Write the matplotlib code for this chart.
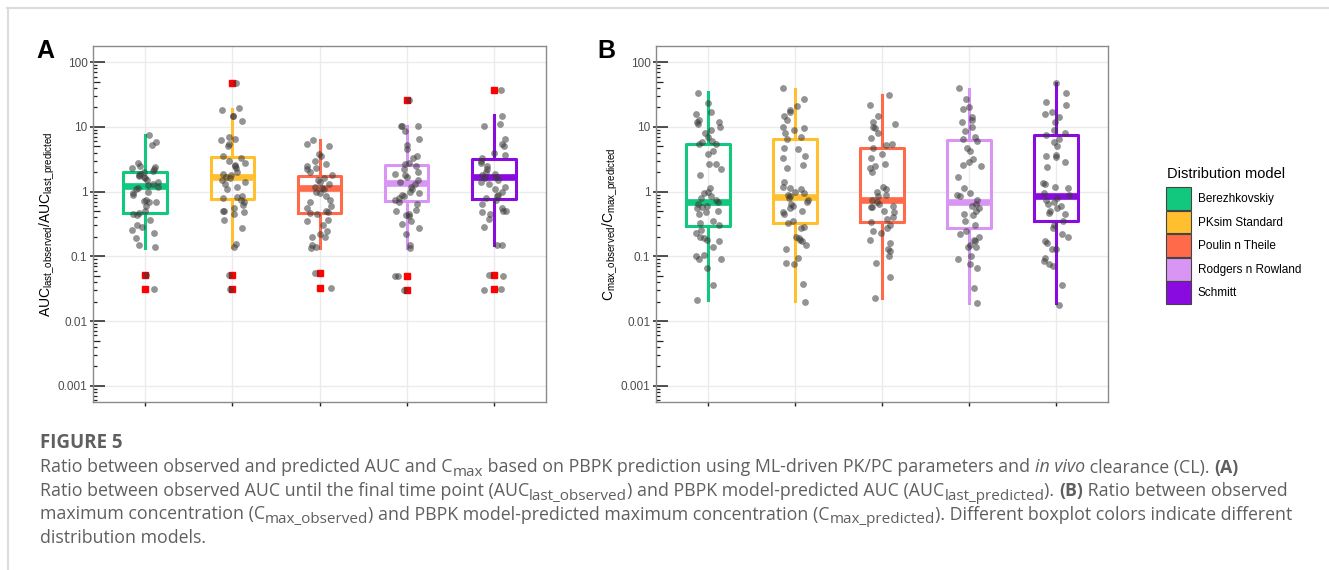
import numpy as np
import matplotlib.pyplot as plt
from matplotlib.patches import Patch
from matplotlib.lines import Line2D
from matplotlib.font_manager import FontProperties
from matplotlib.ticker import LogLocator, FixedLocator, NullFormatter

plt.rcParams['font.family'] = ['Liberation Sans', 'DejaVu Sans']
plt.rcParams['mathtext.fontset'] = 'custom'
plt.rcParams['mathtext.rm'] = 'Liberation Sans'

# ---- data ----
models = ['Berezhkovskiy', 'PKsim Standard', 'Poulin n Theile', 'Rodgers n Rowland', 'Schmitt']
colors = ['#12C87E', '#FFBF2E', '#FF6B4A', '#D895F4', '#8A0BE0']

# panel A: AUC ratio, box statistics
auc_q1 = [0.475, 0.78, 0.46, 0.72, 0.78]
auc_med = [1.24, 1.70, 1.14, 1.37, 1.66]
auc_q3 = [1.98, 3.4, 1.74, 2.57, 3.14]
auc_lo = [0.137, 0.14, 0.137, 0.137, 0.15]
auc_hi = [7.4, 19.0, 6.2, 10.3, 15.1]
auc_out = [[0.051, 0.031], [48, 0.051, 0.031], [0.055, 0.0326],
           [26.4, 0.050, 0.030], [37, 0.051, 0.031]]

# panel A: individual compounds
auc_pts = [
    [7.4, 5.9, 5.2, 2.8, 2.5, 2.4, 2.3, 2.2, 2.1, 2.0, 1.9, 1.8, 1.75, 1.7, 1.6, 1.5,
     1.4, 1.3, 1.25, 1.2, 1.15, 1.1, 1.0, 0.95, 0.9, 0.75, 0.72, 0.7, 0.68, 0.6, 0.5,
     0.47, 0.45, 0.43, 0.37, 0.3, 0.28, 0.26, 0.23, 0.19, 0.15, 0.14, 0.051, 0.031],
    [48, 19.5, 18, 15, 15, 12.5, 7, 6.5, 6.3, 5.5, 5, 3.5, 3.3, 3.0, 2.8, 2.6, 2.5,
     2.3, 2.0, 1.9, 1.8, 1.7, 1.6, 1.5, 1.4, 1.3, 1.2, 1.1, 0.85, 0.82, 0.8, 0.75, 0.7,
     0.62, 0.55, 0.5, 0.5, 0.48, 0.45, 0.36, 0.27, 0.155, 0.14, 0.051, 0.031],
    [6.2, 5.5, 5.0, 3.8, 3.5, 3.0, 2.7, 2.5, 2.3, 2.2, 2.0, 1.8, 1.6, 1.5, 1.4, 1.3,
     1.2, 1.15, 1.1, 1.0, 0.95, 0.85, 0.75, 0.7, 0.6, 0.55, 0.5, 0.48, 0.46, 0.45,
     0.36, 0.35, 0.3, 0.25, 0.22, 0.2, 0.2, 0.15, 0.14, 0.135, 0.055, 0.0326],
    [26.4, 10.5, 10.3, 10.2, 8.5, 6.5, 5.3, 4.5, 3.5, 3.3, 2.8, 2.7, 2.5, 2.2, 2.0,
     1.9, 1.8, 1.7, 1.5, 1.4, 1.3, 1.2, 1.1, 1.0, 0.95, 0.9, 0.85, 0.8, 0.75, 0.7,
     0.65, 0.52, 0.5, 0.45, 0.43, 0.42, 0.35, 0.32, 0.27, 0.22, 0.15, 0.135, 0.049,
     0.050, 0.030],
    [37, 15, 11, 10.5, 6.5, 5.5, 5, 4, 3.7, 3.3, 3.0, 2.8, 2.5, 2.2, 2.0, 1.9, 1.8,
     1.7, 1.6, 1.5, 1.4, 1.3, 1.2, 1.1, 1.0, 0.9, 0.85, 0.8, 0.75, 0.65, 0.55, 0.5,
     0.5, 0.48, 0.45, 0.38, 0.28, 0.15, 0.15, 0.051, 0.05, 0.031, 0.03],
]

# panel B: Cmax ratio, box statistics
cmax_q1 = [0.296, 0.333, 0.341, 0.279, 0.35]
cmax_med = [0.685, 0.84, 0.744, 0.70, 0.868]
cmax_q3 = [5.35, 6.4, 4.7, 6.2, 7.45]
cmax_lo = [0.021, 0.0203, 0.0229, 0.019, 0.0187]
cmax_hi = [34.6, 38.9, 30.7, 39.0, 47.5]
cmax_out = [[], [], [], [], []]

cmax_pts = [
    [34, 23, 17, 16, 13, 12, 12, 11, 10, 9, 8, 7, 6, 5.8, 5.5, 5.5, 4.2, 3.8, 2.7,
     2.7, 2.2, 1.8, 1.15, 1.0, 0.95, 0.85, 0.8, 0.75, 0.7, 0.65, 0.6, 0.58, 0.55, 0.5,
     0.48, 0.45, 0.35, 0.33, 0.3, 0.26, 0.23, 0.2, 0.19, 0.18, 0.17, 0.14, 0.105, 0.1,
     0.092, 0.09, 0.065, 0.036, 0.021],
    [40, 27, 21, 18, 17, 15, 13, 10, 9.5, 9, 8, 7, 6.5, 4.8, 4.5, 3.5, 3.3, 2.6, 2.3,
     1.4, 1.2, 1.15, 1.1, 1.0, 0.95, 0.9, 0.85, 0.8, 0.75, 0.7, 0.65, 0.6, 0.55, 0.5,
     0.48, 0.45, 0.35, 0.33, 0.28, 0.27, 0.2, 0.19, 0.18, 0.17, 0.15, 0.13, 0.095,
     0.08, 0.075, 0.038, 0.02],
    [31, 22, 15, 12, 11, 10, 9.5, 8, 6.8, 5.5, 5.2, 4.8, 3.8, 3.3, 2.7, 2.5, 2.3, 2.0,
     1.2, 1.1, 1.0, 0.9, 0.85, 0.75, 0.7, 0.65, 0.6, 0.58, 0.57, 0.5, 0.48, 0.4, 0.38,
     0.34, 0.3, 0.27, 0.25, 0.23, 0.18, 0.16, 0.13, 0.12, 0.1, 0.08, 0.048, 0.0225],
    [40, 27, 20, 19, 14, 13, 12, 10, 8.5, 7, 6.5, 6, 4.7, 4.2, 3.2, 2.9, 2.6, 2.5, 1.7,
     1.15, 0.95, 0.9, 0.85, 0.75, 0.65, 0.6, 0.55, 0.5, 0.45, 0.43, 0.35, 0.3, 0.25,
     0.22, 0.2, 0.18, 0.17, 0.15, 0.14, 0.14, 0.1, 0.09, 0.075, 0.065, 0.033, 0.019],
    [48, 33, 24, 22, 17, 16, 14, 12, 9, 8, 7.5, 6.5, 5.8, 5, 3.7, 3.5, 3.4, 2.9, 2.4,
     1.35, 1.3, 1.2, 1.15, 0.95, 0.9, 0.8, 0.75, 0.7, 0.65, 0.6, 0.55, 0.5, 0.47,
     0.45, 0.35, 0.3, 0.27, 0.22, 0.2, 0.17, 0.16, 0.13, 0.13, 0.095, 0.085, 0.075,
     0.07, 0.036, 0.018],
]

decades = [0.001, 0.01, 0.1, 1, 10, 100]
decade_labels = ['0.001', '0.01', '0.1', '1', '10', '100']


def draw_panel(ax, pts, q1, med, q3, lo, hi, out, ylabel, seed):
    pos = np.arange(1, len(models) + 1)
    ax.set_yscale('log')
    ax.set_ylim(10 ** -3.25, 10 ** 2.25)
    ax.set_xlim(0.4, len(models) + 0.6)

    for i, c in enumerate(colors):
        st = dict(q1=q1[i], med=med[i], q3=q3[i], whislo=lo[i], whishi=hi[i], fliers=out[i])
        ax.bxp([st], positions=[pos[i]], widths=0.5, showcaps=False,
               boxprops=dict(color=c, lw=2.2),
               whiskerprops=dict(color=c, lw=2.2),
               medianprops=dict(color=c, lw=4.8, solid_capstyle='butt'),
               flierprops=dict(marker='s', mfc='red', mec='red', ms=4.4),
               zorder=2)

    rng = np.random.default_rng(seed)
    for i, vals in enumerate(pts):
        xj = pos[i] + rng.uniform(-0.15, 0.15, len(vals))
        ax.scatter(xj, vals, s=24, color='#3a3a3a', alpha=0.55, lw=0, zorder=3)

    # x axis: bare ticks
    ax.set_xticks(pos)
    ax.set_xticklabels([])
    ax.tick_params(axis='x', direction='out', length=3, width=1, color='#222222')

    # y axis: long / short log ticks inside
    ax.yaxis.set_major_locator(FixedLocator(decades))
    ax.yaxis.set_major_formatter(NullFormatter())
    ax.yaxis.set_minor_locator(LogLocator(base=10, subs=[2, 3, 4, 6, 7, 8, 9], numticks=30))
    ax.yaxis.set_minor_formatter(NullFormatter())
    ax.tick_params(axis='y', which='major', direction='in', length=8.6, width=1.1, color='#222222')
    ax.tick_params(axis='y', which='minor', direction='in', length=3.2, width=0.9, color='#222222')

    # labels, outside ticks and the mid (x5) log ticks
    sec = ax.secondary_yaxis('left')
    sec.set_ticks(decades, labels=decade_labels)
    sec.yaxis.set_minor_locator(LogLocator(base=10, subs=[5], numticks=30))
    sec.yaxis.set_minor_formatter(NullFormatter())
    sec.tick_params(which='major', direction='out', length=2.5, width=1.1, color='#222222',
                    labelsize=8.5, labelcolor='#4d4d4d', pad=1.5)
    sec.tick_params(which='minor', direction='in', length=5, width=0.9, color='#222222')
    sec.spines['left'].set_visible(False)
    sec.set_ylabel(ylabel, fontsize=10, labelpad=0.5)

    ax.grid(which='major', color='#ebebeb', lw=1)
    ax.set_axisbelow(True)
    for sp in ax.spines.values():
        sp.set_color('#8a8a8a')
        sp.set_linewidth(1)


fig = plt.figure(figsize=(13.29, 5.70), dpi=100)
W, H = 1329, 570
axA = fig.add_axes([93 / W, 168 / H, 453 / W, 356 / H])
axB = fig.add_axes([656 / W, 168 / H, 452 / W, 356 / H])

draw_panel(axA, auc_pts, auc_q1, auc_med, auc_q3, auc_lo, auc_hi, auc_out,
           r'AUC$_{\mathrm{last\_observed}}$/AUC$_{\mathrm{last\_predicted}}$', 7)
draw_panel(axB, cmax_pts, cmax_q1, cmax_med, cmax_q3, cmax_lo, cmax_hi, cmax_out,
           r'C$_{\mathrm{max\_observed}}$/C$_{\mathrm{max\_predicted}}$', 11)

fig.text(36 / W, 1 - 58 / H, 'A', fontsize=18, fontweight='bold')
fig.text(597 / W, 1 - 58 / H, 'B', fontsize=18, fontweight='bold')

# legend
fig.text(1167 / W, 1 - 178 / H, 'Distribution model', fontsize=10.5, va='baseline')
handles = [Patch(facecolor=c, edgecolor='#444444', lw=0.8) for c in colors]
fig.legend(handles, models, loc='upper left',
           bbox_to_anchor=(1166 / W, 1 - 187 / H), frameon=False, fontsize=8.5,
           handlelength=2.1, handleheight=2.6, labelspacing=0.06,
           handletextpad=0.6, borderpad=0, borderaxespad=0)

# page frame
fig.add_artist(Line2D([7 / W, 1], [1 - 7.5 / H, 1 - 7.5 / H], transform=fig.transFigure,
                      color='#dcdcdc', lw=1.5))
fig.add_artist(Line2D([7.5 / W, 7.5 / W], [0, 1 - 7.5 / H], transform=fig.transFigure,
                      color='#dcdcdc', lw=1.5))

# caption, built piece by piece so subscripts / bold / italic can be sized freely
cap_size = 12.8
cap_color = '#5f5f5f'
renderer = fig.canvas.get_renderer()


def seg_width(txt, prop):
    w1 = renderer.get_text_width_height_descent('|' + txt + '|', prop, ismath=False)[0]
    w0 = renderer.get_text_width_height_descent('||', prop, ismath=False)[0]
    return w1 - w0


def rich_line(x_px, y_px, parts):
    x = x_px
    for txt, style in parts:
        prop = FontProperties(family='Open Sans', size=cap_size)
        dy = 0
        if style == 'b':
            prop.set_weight('bold')
        elif style == 'i':
            prop.set_style('italic')
        elif style == 's':
            prop.set_size(cap_size * 0.86)
            dy = 3.5
        fig.text(x / W, 1 - (y_px + dy) / H, txt, fontproperties=prop, color=cap_color,
                 va='baseline', ha='left')
        x += seg_width(txt, prop)


fig.text(40 / W, 1 - 448 / H, 'FIGURE 5', fontfamily='Open Sans', fontweight='bold',
         fontsize=13.5, color=cap_color, va='baseline')

caption = [
    [('Ratio between observed and predicted AUC and C', 'n'), ('max', 's'),
     (' based on PBPK prediction using ML-driven PK/PC parameters and ', 'n'),
     ('in vivo', 'i'), (' clearance (CL). ', 'n'), ('(A)', 'b')],
    [('Ratio between observed AUC until the final time point (AUC', 'n'),
     ('last_observed', 's'), (') and PBPK model-predicted AUC (AUC', 'n'),
     ('last_predicted', 's'), ('). ', 'n'), ('(B)', 'b'), (' Ratio between observed', 'n')],
    [('maximum concentration (C', 'n'), ('max_observed', 's'),
     (') and PBPK model-predicted maximum concentration (C', 'n'), ('max_predicted', 's'),
     ('). Different boxplot colors indicate different', 'n')],
    [('distribution models.', 'n')],
]
for k, parts in enumerate(caption):
    rich_line(40, 472.5 + 23.5 * k, parts)

fig.savefig('out.png', dpi=100)
